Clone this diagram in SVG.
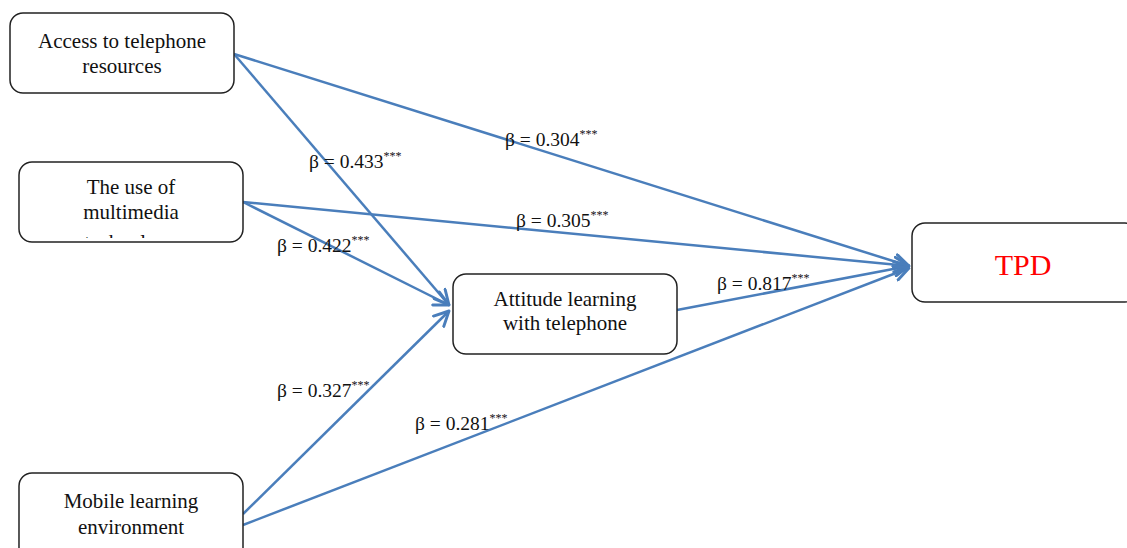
<svg xmlns="http://www.w3.org/2000/svg" width="1127" height="548" viewBox="0 0 1127 548">
<style>
.box{fill:#fff;stroke:#222;stroke-width:1.5}
.t{font-family:"Liberation Serif","Times New Roman",serif;font-size:21px;fill:#111;text-anchor:middle}
.lbl{font-family:"Liberation Serif","Times New Roman",serif;font-size:19.5px;fill:#111}
.sup{font-size:12px}
.c{stroke:#4a7ebb;stroke-width:2.5;fill:none;marker-end:url(#ah)}
</style>
<defs>
<marker id="ah" viewBox="0 0 12 12" refX="11" refY="6" markerWidth="7" markerHeight="7" markerUnits="strokeWidth" orient="auto">
<path d="M1,1 L11,6 L1,11" fill="none" stroke="#4a7ebb" stroke-width="2" stroke-linecap="round" stroke-linejoin="round"/>
</marker>
<clipPath id="clip2"><rect x="19" y="162" width="224" height="76"/></clipPath>
</defs>
<g id="connectors">
<line class="c" x1="234" y1="54" x2="909" y2="266"/>
<line class="c" x1="234" y1="54" x2="449" y2="305"/>
<line class="c" x1="243" y1="202" x2="909" y2="266"/>
<line class="c" x1="243" y1="202" x2="449" y2="305"/>
<line class="c" x1="677" y1="310" x2="909" y2="266"/>
<line class="c" x1="243" y1="514" x2="449" y2="311"/>
<line class="c" x1="243" y1="525" x2="909" y2="268"/>
</g>
<g id="labels">
<text class="lbl" x="505" y="146">β = 0.304<tspan class="sup" dy="-8">***</tspan></text>
<text class="lbl" x="309" y="168">β = 0.433<tspan class="sup" dy="-8">***</tspan></text>
<text class="lbl" x="516" y="227">β = 0.305<tspan class="sup" dy="-8">***</tspan></text>
<text class="lbl" x="277" y="252">β = 0.422<tspan class="sup" dy="-8">***</tspan></text>
<text class="lbl" x="717" y="290">β = 0.817<tspan class="sup" dy="-8">***</tspan></text>
<text class="lbl" x="277" y="397">β = 0.327<tspan class="sup" dy="-8">***</tspan></text>
<text class="lbl" x="415" y="430">β = 0.281<tspan class="sup" dy="-8">***</tspan></text>
</g>
<g id="node-access">
<rect class="box" x="10" y="13" width="224" height="80" rx="13"/>
<text class="t" x="122" y="48">Access to telephone</text>
<text class="t" x="122" y="73">resources</text>
</g>
<g id="node-multimedia">
<rect class="box" x="19" y="162" width="224" height="80" rx="13"/>
<g clip-path="url(#clip2)">
<text class="t" x="131" y="194">The use of</text>
<text class="t" x="131" y="219">multimedia</text>
<text class="t" x="131" y="249">technology</text>
</g>
</g>
<g id="node-attitude">
<rect class="box" x="453" y="274" width="224" height="80" rx="13"/>
<text class="t" x="565" y="306">Attitude learning</text>
<text class="t" x="565" y="330">with telephone</text>
</g>
<g id="node-tpd">
<rect class="box" x="912" y="223" width="226" height="79" rx="13"/>
<text class="t" x="1023" y="275" style="font-size:30px;fill:#ff0000">TPD</text>
</g>
<g id="node-mobile">
<rect class="box" x="19" y="473" width="224" height="90" rx="13"/>
<text class="t" x="131" y="508">Mobile learning</text>
<text class="t" x="131" y="534">environment</text>
</g>
</svg>
